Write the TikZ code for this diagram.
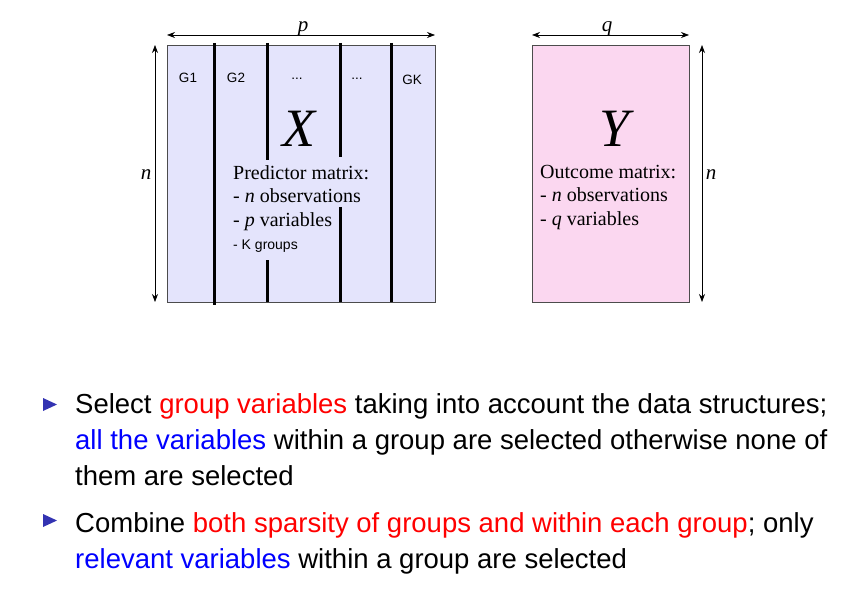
\documentclass[tikz,border=0pt]{standalone}
\usepackage{fontspec}
\setmainfont{Liberation Serif}
\setsansfont{Liberation Sans}
\usetikzlibrary{arrows.meta, calc, positioning}
\definecolor{xfill}{RGB}{228,228,252}
\definecolor{yfill}{RGB}{251,215,240}
\definecolor{bulletblue}{RGB}{51,51,178}
\definecolor{hlred}{RGB}{255,0,0}
\definecolor{hlblue}{RGB}{0,0,255}

\begin{document}
\begin{tikzpicture}[x=1pt, y=-1pt,
  mat/.style={draw=gray!60!black, line width=0.8pt, anchor=north west, inner sep=0pt},
  grp/.style={line width=3pt},
  dim/.style={{Stealth[length=8pt,width=6pt]}-{Stealth[length=8pt,width=6pt]}, line width=0.7pt},
  glabel/.style={font=\sffamily\fontsize{13.5}{15}\selectfont, inner sep=0pt, anchor=base},
  dimlabel/.style={font=\fontsize{21}{22}\selectfont\itshape, inner sep=0pt, anchor=base},
  bigletter/.style={font=\fontsize{54}{54}\selectfont\itshape, inner sep=0pt, anchor=base},
  desc/.style={align=left, anchor=north west, inner sep=0pt, font=\fontsize{20}{23.5}\selectfont},
  item/.style={anchor=base west, inner sep=0pt, font=\sffamily\fontsize{27.5}{36}\selectfont}]
\useasboundingbox (0,0) rectangle (844,599);

% X
\node[mat, fill=xfill, minimum width=268pt, minimum height=257pt] (xmat) at (167,45) {};
\draw[grp] (214,43) -- (214,305);
\draw[grp] (267,43) -- (267,160);
\draw[grp] (267,260) -- (267,302);
\draw[grp] (340,43) -- (340,157);
\draw[grp] (340,207) -- (340,302);
\draw[grp] (391,43) -- (391,302);
\node[glabel] (g1) at (188,83) {G1};
\node[glabel] (g2) at (236,83) {G2};
\node[glabel] (g3) at (297,80) {...};
\node[glabel] (g4) at (357,80) {...};
\node[glabel] (gk) at (412,85) {GK};
\node[bigletter] (xname) at (299,147) {X};
\node[desc] (xdesc) at (233,165) {Predictor matrix:\\
  - \textit{n} observations\\
  - \textit{p} variables\\
  {\sffamily\fontsize{14}{24}\selectfont - K groups}};

% dimensions of X
\coordinate (pl) at (167,35);
\coordinate (pr) at (435,35);
\draw[dim] (pl) -- (pr);
\node[dimlabel] (plabel) at (303,32) {p};
\coordinate (nxt) at (155,45);
\coordinate (nxb) at (155,302);
\draw[dim] (nxt) -- (nxb);
\node[dimlabel] (nxlabel) at (146,179) {n};

% Y
\node[mat, fill=yfill, minimum width=157pt, minimum height=257pt] (ymat) at (532,45) {};
\node[bigletter] (yname) at (615,147) {Y};
\node[desc] (ydesc) at (540,165) {Outcome matrix:\\
  - \textit{n} observations\\
  - \textit{q} variables};

% dimensions of Y
\coordinate (ql) at (532,35);
\coordinate (qr) at (689,35);
\draw[dim] (ql) -- (qr);
\node[dimlabel] (qlabel) at (607,32) {q};
\coordinate (nyt) at (702,45);
\coordinate (nyb) at (702,302);
\draw[dim] (nyt) -- (nyb);
\node[dimlabel] (nylabel) at (711,179) {n};

% bullets
\fill[bulletblue] (43,398) -- (57,404.5) -- (43,411) -- cycle;
\node[item] (l1) at (75,413) {Select \textcolor{hlred}{group variables} taking into account the data structures;};
\node[item] (l2) at (75,449) {\textcolor{hlblue}{all the variables} within a group are selected otherwise none of};
\node[item] (l3) at (75,485) {them are selected};
\fill[bulletblue] (43,514) -- (57,520.5) -- (43,527) -- cycle;
\node[item] (l4) at (75,532) {Combine \textcolor{hlred}{both sparsity of groups and within each group}; only};
\node[item] (l5) at (75,568) {\textcolor{hlblue}{relevant variables} within a group are selected};
\end{tikzpicture}
\end{document}
